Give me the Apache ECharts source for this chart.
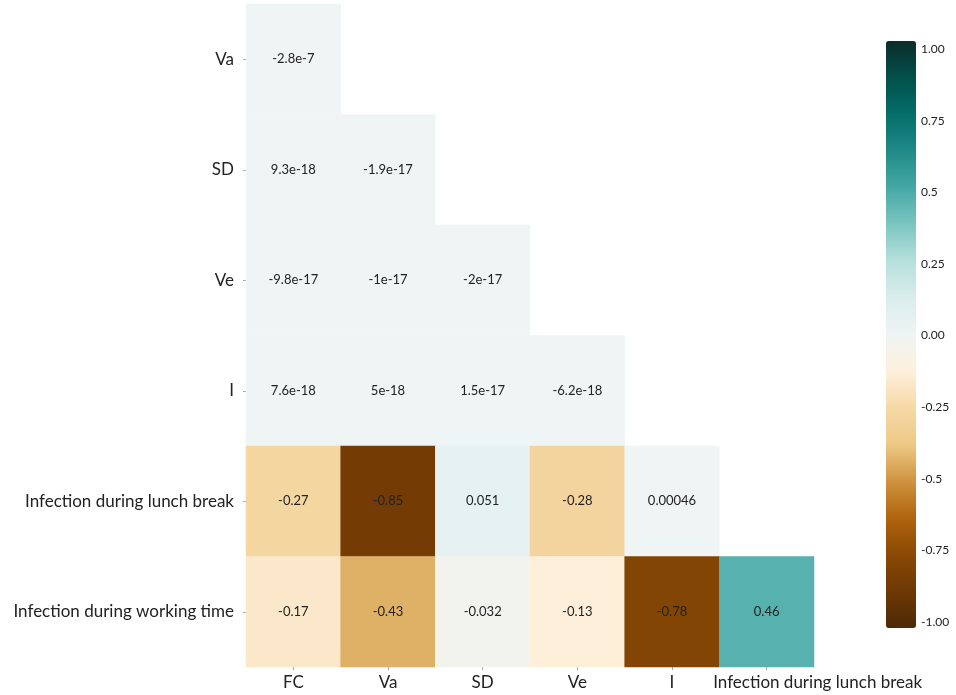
<!DOCTYPE html>
<html>
<head>
<meta charset="utf-8">
<script src="https://cdn.jsdelivr.net/npm/echarts@6/dist/echarts.min.js"></script>
<style>
html,body{margin:0;padding:0;background:#fff;}
#chart{width:956px;height:695px;}
</style>
</head>
<body>
<div id="chart"></div>
<script>
// ---- data ----
const columns = ['FC', 'Va', 'SD', 'Ve', 'I', 'Infection during lunch break'];
const rows = ['Va', 'SD', 'Ve', 'I', 'Infection during lunch break', 'Infection during working time'];
// lower-triangular values, one array per row (row i has i+1 values)
const rowVa      = [-2.8e-7];
const rowSD      = [9.3e-18, -1.9e-17];
const rowVe      = [-9.8e-17, -1e-17, -2e-17];
const rowI       = [7.6e-18, 5e-18, 1.5e-17, -6.2e-18];
const rowLunch   = [-0.27, -0.85, 0.051, -0.28, 0.00046];
const rowWorking = [-0.17, -0.43, -0.032, -0.13, -0.78, 0.46];
// displayed annotation text (as printed in the chart)
const textVa      = ['-2.8e-7'];
const textSD      = ['9.3e-18', '-1.9e-17'];
const textVe      = ['-9.8e-17', '-1e-17', '-2e-17'];
const textI       = ['7.6e-18', '5e-18', '1.5e-17', '-6.2e-18'];
const textLunch   = ['-0.27', '-0.85', '0.051', '-0.28', '0.00046'];
const textWorking = ['-0.17', '-0.43', '-0.032', '-0.13', '-0.78', '0.46'];
// colorbar tick labels (from 1 down to -1)
const colorbarTicks = ['1.00', '0.75', '0.5', '0.25', '0.00', '-0.25', '-0.5', '-0.75', '-1.00'];

// ---- styling ----
const cmap = ['#4b2a08','#6e3804','#8a4904','#b0640e','#cf9340','#ecc985','#f6d8a6','#fef0dc',
              '#eff4f4','#d9edec','#b6e0dc','#7cc5c0','#45a8a6','#1f8a87','#046e6a','#03504c','#0b2c29'];
const FONT = 'Lato';

const allRows = [rowVa, rowSD, rowVe, rowI, rowLunch, rowWorking];
const allText = [textVa, textSD, textVe, textI, textLunch, textWorking];
const heat = [];
allRows.forEach((vals, r) => {
  vals.forEach((v, c) => {
    heat.push({ value: [c, r, v], label: { formatter: allText[r][c] } });
  });
});

const chart = echarts.init(document.getElementById('chart'), null, { renderer: 'canvas' });
chart.setOption({
  animation: false,
  backgroundColor: '#ffffff',
  grid: [
    { left: 246, right: 142, top: 4, bottom: 28 },
    { left: 886, width: 30, top: 49, height: 573 }
  ],
  xAxis: [
    {
      type: 'category', gridIndex: 0,
      data: columns.map((c, i) => i === columns.length - 1
        ? { value: c, textStyle: { padding: [0, 0, 0, 102] } } : c),
      axisLine: { show: false },
      axisTick: { show: true, length: 3, alignWithLabel: true, lineStyle: { color: '#aaa' } },
      axisLabel: { fontFamily: FONT, fontSize: 17, color: '#222', margin: 7, interval: 0 },
      splitLine: { show: false }
    },
    { type: 'value', gridIndex: 1, show: false, min: 0, max: 1 }
  ],
  yAxis: [
    {
      type: 'category', gridIndex: 0, inverse: true,
      data: rows,
      axisLine: { show: false },
      axisTick: { show: true, length: 3, alignWithLabel: true, lineStyle: { color: '#aaa' } },
      axisLabel: { fontFamily: FONT, fontSize: 17, color: '#222', margin: 12, interval: 0 },
      splitLine: { show: false }
    },
    {
      type: 'value', gridIndex: 1, min: -1, max: 1, interval: 0.25, position: 'right',
      axisLine: { show: false },
      axisTick: { show: true, length: 2, lineStyle: { color: '#aaa' } },
      splitLine: { show: false },
      axisLabel: {
        fontFamily: FONT, fontSize: 12, color: '#222', margin: 5,
        formatter: (v) => colorbarTicks[Math.round((1 - v) / 0.25)]
      }
    }
  ],
  visualMap: {
    type: 'continuous', min: -1, max: 1, calculable: false,
    orient: 'vertical', left: 886, top: 41, itemWidth: 30, itemHeight: 587,
    padding: 0, text: null, seriesIndex: 0, hoverLink: false,
    inRange: { color: cmap }
  },
  series: [
    {
      type: 'heatmap', xAxisIndex: 0, yAxisIndex: 0,
      data: heat,
      itemStyle: { borderWidth: 0 },
      label: { show: true, fontFamily: FONT, fontSize: 13, color: '#222' },
      emphasis: { disabled: true }
    }
  ]
});
</script>
</body>
</html>
